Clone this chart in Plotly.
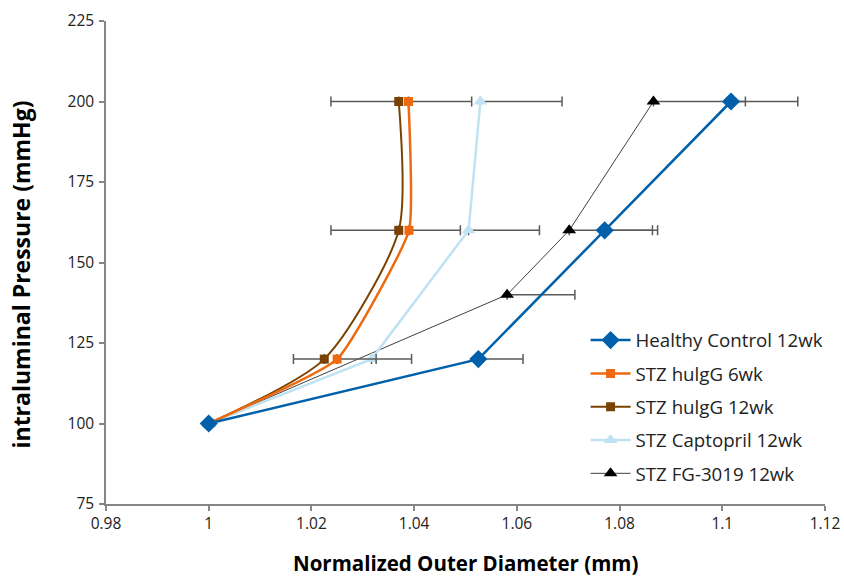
import plotly.graph_objects as go

# ---- data ----
pressure_4 = [100, 120, 160, 200]
pressure_fg = [100, 140, 160, 200]

healthy_x = [1.0, 1.0525, 1.0771, 1.1017]
healthy_err_plus = [0, 0.0087, 0.0103, 0.0130]

hulgg6_x = [1.0, 1.0250, 1.0390, 1.0389]
hulgg6_err_plus = [0, 0.0076, 0.0100, 0.0123]

hulgg12_x = [1.0, 1.0225, 1.0370, 1.0370]
hulgg12_err_minus = [0, 0.0060, 0.0132, 0.0132]

capto_x = [1.0, 1.0317, 1.0506, 1.0529]
capto_err_plus = [0, 0.0078, 0.0138, 0.0159]

fg_x = [1.0, 1.0581, 1.0702, 1.0866]
fg_err_plus = [0, 0.0132, 0.0162, 0.0179]

x_ticks = [0.98, 1.0, 1.02, 1.04, 1.06, 1.08, 1.10, 1.12]
x_tick_labels = ["0.98", "1", "1.02", "1.04", "1.06", "1.08", "1.1", "1.12"]
y_ticks = [75, 100, 125, 150, 175, 200, 225]

names = ["Healthy Control 12wk", "STZ hulgG 6wk", "STZ hulgG 12wk",
         "STZ Captopril 12wk", "STZ FG-3019 12wk"]

ERR_COLOR = "#5a5a5a"
FONT = "Open Sans"


def err(plus, minus):
    return dict(type="data", symmetric=False, array=plus, arrayminus=minus,
                color=ERR_COLOR, thickness=1.5, width=5)


zeros = [0, 0, 0, 0]

fig = go.Figure()

# drawn back-to-front; legend order set by legendrank
fig.add_trace(go.Scatter(
    x=fg_x, y=pressure_fg, name=names[4], mode="lines+markers",
    line=dict(color="#404040", width=1),
    marker=dict(symbol="triangle-up", size=12, color="#000000"),
    error_x=err(fg_err_plus, zeros), legendrank=5, legendgroup="g5"))

fig.add_trace(go.Scatter(
    x=capto_x, y=pressure_4, name=names[3], mode="lines+markers",
    line=dict(color="#BFE3F2", width=2.5),
    marker=dict(symbol="triangle-up", size=12, color="#BFE3F2"),
    error_x=err(capto_err_plus, zeros), legendrank=4, legendgroup="g4"))

fig.add_trace(go.Scatter(
    x=hulgg12_x, y=pressure_4, name=names[2], mode="lines+markers",
    line=dict(color="#7A4200", width=2, shape="spline", smoothing=0.7),
    marker=dict(symbol="square", size=9, color="#7A4200"),
    error_x=err(zeros, hulgg12_err_minus), legendrank=3, legendgroup="g3"))

fig.add_trace(go.Scatter(
    x=hulgg6_x, y=pressure_4, name=names[1], mode="lines+markers",
    line=dict(color="#EE6A10", width=2.5, shape="spline", smoothing=0.4),
    marker=dict(symbol="square", size=9, color="#EE6A10"),
    error_x=err(hulgg6_err_plus, zeros), legendrank=2, legendgroup="g2"))

fig.add_trace(go.Scatter(
    x=healthy_x, y=pressure_4, name=names[0], mode="lines+markers",
    line=dict(color="#0060AA", width=2.5),
    marker=dict(symbol="diamond", size=14, color="#0060AA"),
    error_x=err(healthy_err_plus, zeros), legendrank=1, legendgroup="g1"))

axis_common = dict(showgrid=False, zeroline=False, showline=True,
                   linecolor="#868686", linewidth=1.5, ticks="outside",
                   tickcolor="#868686", tickwidth=1.5, ticklen=5,
                   automargin=False,
                   tickfont=dict(family=FONT, size=15.5, color="#222222"))

fig.update_xaxes(range=[0.98, 1.12], tickvals=x_ticks, ticktext=x_tick_labels,
                 **axis_common)
fig.update_yaxes(range=[75, 225], tickvals=y_ticks, ticklabelstandoff=2,
                 **axis_common)

fig.update_layout(
    width=844, height=577,
    margin=dict(l=106, r=19, t=21, b=73, autoexpand=False),
    paper_bgcolor="white", plot_bgcolor="white",
    showlegend=True,
    legend=dict(x=0.667, y=0.378, xanchor="left", yanchor="top",
                font=dict(family=FONT, size=18.7, color="#222222"),
                bgcolor="rgba(0,0,0,0)", tracegroupgap=6, itemwidth=40,
                traceorder="grouped"),
    annotations=[
        dict(text="<b>Normalized Outer Diameter (mm)</b>", xref="paper",
             yref="paper", x=0.5, y=0, yshift=-59, xanchor="center",
             yanchor="middle", showarrow=False,
             font=dict(family=FONT, size=20.5, color="#000000")),
        dict(text="<b>intraluminal Pressure (mmHg)</b>", xref="paper",
             yref="paper", x=0, y=0.5, xshift=-86, yshift=-12,
             xanchor="center", yanchor="middle", textangle=-90,
             showarrow=False,
             font=dict(family=FONT, size=23, color="#000000")),
    ],
)

# remove the browser's default 8px page margin so the figure sits at (0, 0)
fig.write_html("out.html", config={"displayModeBar": False},
               post_script="document.body.style.margin='0';")
